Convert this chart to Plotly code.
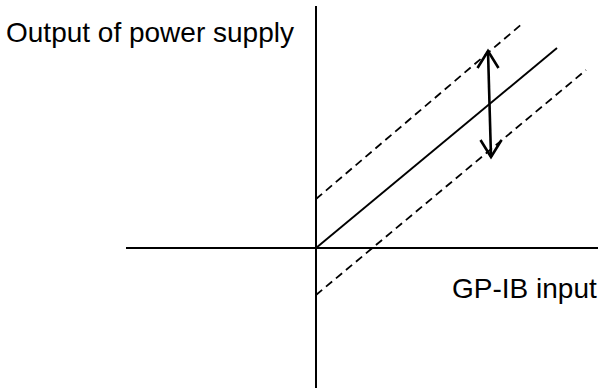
import plotly.graph_objects as go

# ---- diagram data (units: pixels relative to the axis origin) ----
gp_ib_input = [0, 241]            # input range of the nominal line
output_nominal = [0, 200]         # nominal output (solid)
upper_input = [0, 207]
output_upper = [49, 225]          # upper tolerance (dashed)
lower_input = [0, 270]
output_lower = [-47, 178]         # lower tolerance (dashed)
arrow_x = [172, 175]              # tolerance band arrow (top, bottom)
arrow_y = [197, 91]
vaxis_y = [242, -140]
haxis_x = [-190, 282]
labels = ["Output of power supply", "GP-IB input"]

W, H = 602, 392
ox, oy = 316, 248  # pixel of origin

fig = go.Figure()

black = "#000000"
# axes
fig.add_trace(go.Scatter(x=[0, 0], y=vaxis_y, mode="lines",
                         line=dict(color=black, width=2)))
fig.add_trace(go.Scatter(x=haxis_x, y=[0, 0], mode="lines",
                         line=dict(color=black, width=2)))
# nominal line
fig.add_trace(go.Scatter(x=gp_ib_input, y=output_nominal, mode="lines",
                         line=dict(color=black, width=1.9)))
# tolerance lines
fig.add_trace(go.Scatter(x=upper_input, y=output_upper, mode="lines",
                         line=dict(color=black, width=1.8, dash="8px,5px")))
fig.add_trace(go.Scatter(x=lower_input, y=output_lower, mode="lines",
                         line=dict(color=black, width=1.8, dash="8px,5px")))
# double arrow shaft
fig.add_trace(go.Scatter(x=arrow_x, y=arrow_y, mode="lines",
                         line=dict(color=black, width=2.6)))
# arrow heads (open V)
hw, hl = 10.5, 17
tx, ty = arrow_x[0], arrow_y[0]
fig.add_trace(go.Scatter(x=[tx - hw, tx, tx + hw], y=[ty - hl, ty, ty - hl],
                         mode="lines", line=dict(color=black, width=2.6)))
bx, by = arrow_x[1], arrow_y[1]
fig.add_trace(go.Scatter(x=[bx - hw, bx, bx + hw], y=[by + hl, by, by + hl],
                         mode="lines", line=dict(color=black, width=2.6)))

font = dict(family="Liberation Sans, Arial, sans-serif", size=28, color=black)
fig.add_annotation(x=-312, y=216, text=labels[0], showarrow=False,
                   xanchor="left", yanchor="middle", font=font)
fig.add_annotation(x=283, y=-40, text=labels[1], showarrow=False,
                   xanchor="right", yanchor="middle", font=font)

fig.update_layout(
    width=W, height=H, margin=dict(l=0, r=0, t=0, b=0),
    paper_bgcolor="white", plot_bgcolor="white", showlegend=False,
    xaxis=dict(range=[-ox, W - ox], visible=False, fixedrange=True),
    yaxis=dict(range=[oy - H, oy], visible=False, fixedrange=True),
)

fig.write_html("out.html", config=dict(displayModeBar=False),
               post_script="document.body.style.margin='0';document.body.style.overflow='hidden';")
